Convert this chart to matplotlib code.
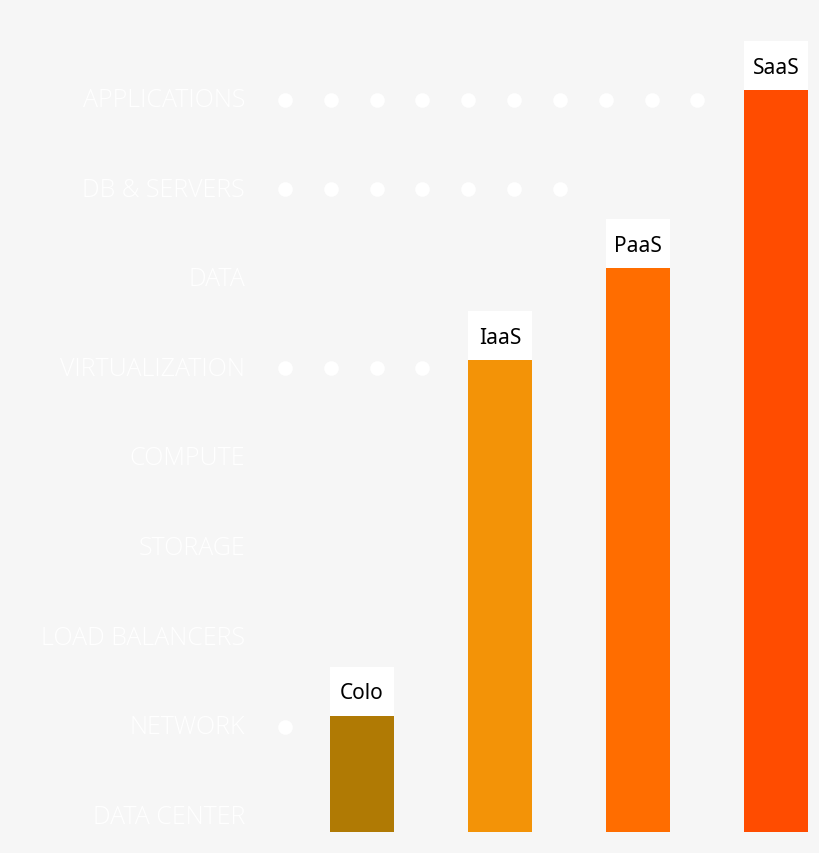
import numpy as np
import matplotlib
matplotlib.use("Agg")
import matplotlib.pyplot as plt

# stack levels, bottom to top
LEVELS = ["DATA CENTER", "NETWORK", "LOAD BALANCERS", "STORAGE", "COMPUTE",
          "VIRTUALIZATION", "DATA", "DB & SERVERS", "APPLICATIONS"]
DOT_COUNTS = [0, 1, 0, 0, 0, 4, 0, 7, 10]

MODELS = ["Colo", "IaaS", "PaaS", "SaaS"]
HEIGHTS = [1.12, 5.09, 6.12, 8.11]   # top of each bar, in level units
COLORS = ["#b07a04", "#f39307", "#ff6d00", "#ff4c00"]

BG = "#f6f6f6"
BASE = -0.18
BOX_H = 0.55
WIDTH = 0.464

fig = plt.figure(figsize=(8.2, 8.54), dpi=100, facecolor=BG)
ax = fig.add_axes([0, 0, 1, 1], facecolor=BG)
ax.set_xlim(-2.623, 3.319)
ax.set_ylim(-0.413, 9.128)
ax.axis("off")

# faint row labels and dot rows
for i, (name, n) in enumerate(zip(LEVELS, DOT_COUNTS)):
    ax.text(-0.848, i, name, ha="right", va="center", color="white",
            fontsize=18, family="Open Sans", fontweight="light")
    if n:
        xs = -0.558 + 0.332 * np.arange(n)
        ax.scatter(xs, np.full(n, i), s=110, color="white", zorder=1,
                   linewidths=0)

x = np.arange(len(MODELS))
tops = np.array(HEIGHTS)
ax.bar(x, tops - BASE, bottom=BASE, width=WIDTH, color=COLORS, zorder=2)
ax.bar(x, BOX_H, bottom=tops, width=WIDTH, color="white", zorder=2)
for xi, t, m in zip(x, tops, MODELS):
    ax.text(xi, t + BOX_H / 2 - 0.02, m, ha="center", va="center",
            fontsize=15, family="Noto Sans", color="black", zorder=3)

fig.savefig("out.png", dpi=100, facecolor=BG)
